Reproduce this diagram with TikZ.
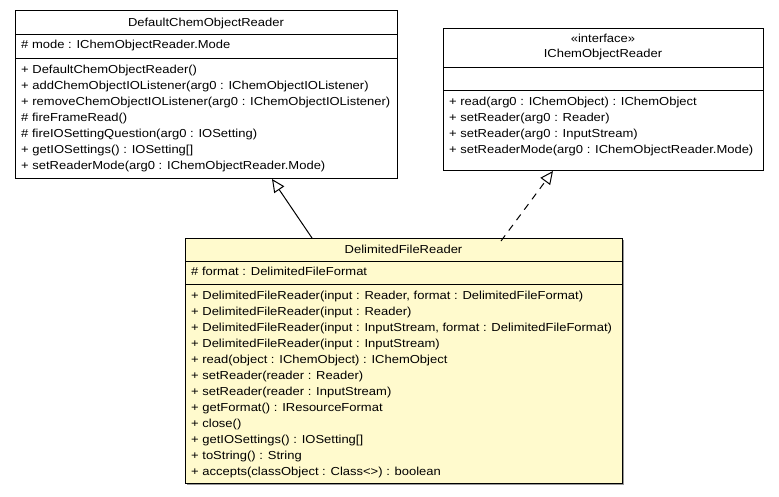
\documentclass[tikz,border=0pt]{standalone}
\usepackage{fontspec}
\setmainfont[FakeStretch=1.12]{Liberation Sans}
\usetikzlibrary{arrows.meta}
\definecolor{lemon}{RGB}{255,250,205}
\begin{document}
\begin{tikzpicture}[x=1pt,y=-1pt,
  umlbox/.style={draw=black, line width=1pt, anchor=north west, inner sep=0pt, fill=white},
  txt/.style={anchor=base west, inner sep=0pt, font=\fontsize{11.6}{14}\selectfont},
  ttl/.style={anchor=base, inner sep=0pt, font=\fontsize{11.6}{14}\selectfont},
  sep/.style={line width=1pt},
  gen/.style={line width=1pt, -{Triangle[open, length=13pt, width=12pt, fill=white]}},
  real/.style={gen, dash pattern=on 7pt off 6pt}]
\useasboundingbox (0,0) rectangle (779,496);
\fill[white] (0,0) rectangle (779,496);

% DefaultChemObjectReader
\node[umlbox, minimum width=382pt, minimum height=168pt] (dcor) at (15,10) {};
\draw[sep] (15,34) -- (397,34);
\draw[sep] (15,58) -- (397,58);
\node[ttl] (dcort) at (206,26) {DefaultChemObjectReader};
\node[txt] (dcora) at (21,48.7) {\# mode : IChemObjectReader.Mode};
\node[txt] (dcorm1) at (21,73) {+ DefaultChemObjectReader()};
\node[txt] (dcorm2) at (21,89) {+ addChemObjectIOListener(arg0 : IChemObjectIOListener)};
\node[txt] (dcorm3) at (21,105) {+ removeChemObjectIOListener(arg0 : IChemObjectIOListener)};
\node[txt] (dcorm4) at (21,121) {\# fireFrameRead()};
\node[txt] (dcorm5) at (21,137) {\# fireIOSettingQuestion(arg0 : IOSetting)};
\node[txt] (dcorm6) at (21,153) {+ getIOSettings() : IOSetting[]};
\node[txt] (dcorm7) at (21,169) {+ setReaderMode(arg0 : IChemObjectReader.Mode)};

% IChemObjectReader
\node[umlbox, minimum width=320pt, minimum height=142pt] (icor) at (443,28) {};
\draw[sep] (443,67) -- (763,67);
\draw[sep] (443,90) -- (763,90);
\node[ttl] (icors) at (603,42) {«interface»};
\node[ttl] (icort) at (603,57) {IChemObjectReader};
\node[txt] (icorm1) at (449,105) {+ read(arg0 : IChemObject) : IChemObject};
\node[txt] (icorm2) at (449,121) {+ setReader(arg0 : Reader)};
\node[txt] (icorm3) at (449,137) {+ setReader(arg0 : InputStream)};
\node[txt] (icorm4) at (449,153) {+ setReaderMode(arg0 : IChemObjectReader.Mode)};

% DelimitedFileReader
\fill[black!40] (187,240) rectangle (624,485);
\node[umlbox, fill=lemon, minimum width=437pt, minimum height=245pt] (dfr) at (185,238) {};
\draw[sep] (185,261) -- (622,261);
\draw[sep] (185,284.5) -- (622,284.5);
\node[ttl] (dfrt) at (403.5,253.5) {DelimitedFileReader};
\node[txt] (dfra) at (191,275.5) {\# format : DelimitedFileFormat};
\node[txt] (dfrm1) at (191,299.5) {+ DelimitedFileReader(input : Reader, format : DelimitedFileFormat)};
\node[txt] (dfrm2) at (191,315.5) {+ DelimitedFileReader(input : Reader)};
\node[txt] (dfrm3) at (191,331.5) {+ DelimitedFileReader(input : InputStream, format : DelimitedFileFormat)};
\node[txt] (dfrm4) at (191,347.5) {+ DelimitedFileReader(input : InputStream)};
\node[txt] (dfrm5) at (191,363.5) {+ read(object : IChemObject) : IChemObject};
\node[txt] (dfrm6) at (191,379.5) {+ setReader(reader : Reader)};
\node[txt] (dfrm7) at (191,395.5) {+ setReader(reader : InputStream)};
\node[txt] (dfrm8) at (191,411.5) {+ getFormat() : IResourceFormat};
\node[txt] (dfrm9) at (191,427.5) {+ close()};
\node[txt] (dfrm10) at (191,443.5) {+ getIOSettings() : IOSetting[]};
\node[txt] (dfrm11) at (191,459.5) {+ toString() : String};
\node[txt] (dfrm12) at (191,475.5) {+ accepts(classObject : Class<>) : boolean};

% connectors
\draw[gen] ([xshift=127pt]dfr.north west) -- ([xshift=257pt]dcor.south west);
\draw[real] ([xshift=316pt,yshift=-3pt]dfr.north west) -- ([xshift=110pt]icor.south west);
\end{tikzpicture}
\end{document}
